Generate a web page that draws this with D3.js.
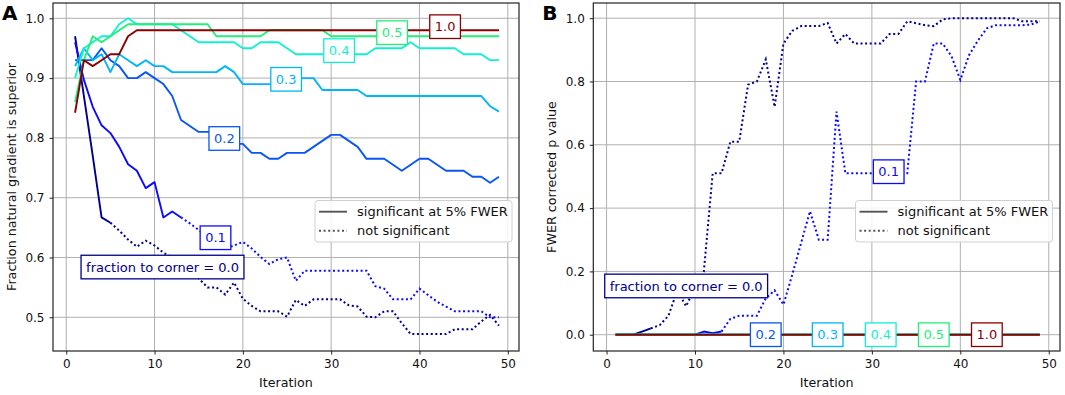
<!DOCTYPE html>
<html>
<head>
<meta charset="utf-8">
<script src="https://cdn.jsdelivr.net/npm/d3@7"></script>
<style>
  body { margin: 0; background: #fff; }
  text { font-family: "DejaVu Sans", sans-serif; }
</style>
</head>
<body>
<div id="chart"></div>
<script>
// iterations 1..49
const iterations = [1,2,3,4,5,6,7,8,9,10,11,12,13,14,15,16,17,18,19,20,21,22,23,24,25,
  26,27,28,29,30,31,32,33,34,35,36,37,38,39,40,41,42,43,44,45,46,47,48,49];

const fractions = ["0.0", "0.1", "0.2", "0.3", "0.4", "0.5", "1.0"];
const colors = ["#00008b", "#0a0aff", "#0a55f5", "#00b6f8", "#12f0d2", "#20f07a", "#8b0000"];
// last iteration that is significant at 5% FWER (solid line up to here)
const solidUntil = [5, 13, 49, 49, 49, 49, 49];

// panel A: fraction natural gradient is superior
const superior00 = [0.97,0.87,0.77,0.667,0.658,0.645,0.63,0.618,0.628,0.62,0.608,0.60,0.59,0.578,0.565,
  0.55,0.55,0.538,0.558,0.531,0.519,0.51,0.51,0.51,0.501,0.529,0.519,0.53,0.53,0.53,0.53,0.52,0.518,
  0.501,0.50,0.51,0.51,0.49,0.472,0.472,0.472,0.472,0.472,0.48,0.48,0.48,0.493,0.504,0.486];
const superior01 = [0.96,0.897,0.852,0.821,0.808,0.785,0.756,0.745,0.716,0.726,0.667,0.677,0.667,0.657,
  0.646,0.635,0.625,0.615,0.62,0.626,0.615,0.601,0.589,0.597,0.60,0.561,0.578,0.578,0.578,0.578,0.578,
  0.578,0.578,0.578,0.552,0.548,0.53,0.53,0.53,0.548,0.537,0.526,0.518,0.51,0.51,0.51,0.51,0.50,0.50];
const superior02 = [0.93,0.93,0.93,0.95,0.93,0.92,0.90,0.90,0.91,0.90,0.89,0.87,0.83,0.82,0.81,0.81,
  0.81,0.80,0.79,0.79,0.775,0.775,0.765,0.765,0.775,0.775,0.775,0.785,0.795,0.805,0.805,0.795,0.785,
  0.765,0.765,0.765,0.755,0.745,0.755,0.765,0.765,0.755,0.745,0.745,0.745,0.735,0.735,0.725,0.735];
const superior03 = [0.92,0.95,0.93,0.94,0.91,0.94,0.93,0.92,0.93,0.92,0.92,0.91,0.91,0.91,0.91,0.91,
  0.91,0.92,0.91,0.89,0.89,0.89,0.89,0.89,0.90,0.90,0.90,0.90,0.88,0.88,0.88,0.88,0.88,0.87,0.87,0.87,
  0.87,0.87,0.87,0.87,0.87,0.87,0.87,0.87,0.87,0.87,0.87,0.853,0.844];
const superior04 = [0.90,0.95,0.96,0.97,0.97,0.99,1.0,0.99,0.99,0.99,0.99,0.99,0.98,0.97,0.96,0.96,
  0.96,0.96,0.96,0.95,0.95,0.96,0.96,0.96,0.95,0.94,0.94,0.94,0.94,0.94,0.94,0.94,0.94,0.94,0.95,0.95,
  0.95,0.95,0.96,0.95,0.95,0.95,0.95,0.95,0.94,0.94,0.94,0.93,0.93];
const superior05 = [0.86,0.93,0.97,0.96,0.97,0.98,0.99,0.99,0.99,0.99,0.99,0.99,0.99,0.99,0.99,0.99,
  0.97,0.97,0.97,0.97,0.97,0.97,0.98,0.98,0.98,0.98,0.98,0.98,0.98,0.97,0.97,0.97,0.97,0.97,0.97,0.97,
  0.97,0.97,0.97,0.97,0.97,0.97,0.97,0.97,0.97,0.97,0.97,0.97,0.97];
const superior10 = [0.842,0.93,0.92,0.93,0.94,0.94,0.97,0.98,0.98,0.98,0.98,0.98,0.98,0.98,0.98,0.98,
  0.98,0.98,0.98,0.98,0.98,0.98,0.98,0.98,0.98,0.98,0.98,0.98,0.98,0.98,0.98,0.98,0.98,0.98,0.98,0.98,
  0.98,0.98,0.98,0.98,0.98,0.98,0.98,0.98,0.98,0.98,0.98,0.98,0.98];

// panel B: FWER corrected p value
const pval00 = [0,0,0,0.01,0.02,0.03,0.06,0.14,0.09,0.15,0.2,0.51,0.51,0.61,0.61,0.79,0.80,0.87,0.72,
  0.92,0.96,0.975,0.975,0.975,0.985,0.92,0.95,0.92,0.92,0.92,0.92,0.95,0.95,0.99,0.984,0.978,0.975,
  0.996,1.0,1.0,1.0,1.0,1.0,1.0,1.0,1.0,0.99,0.99,0.99];
const pval01 = [0,0,0,0,0,0,0,0,0,0,0.01,0.005,0.01,0.05,0.06,0.06,0.06,0.115,0.14,0.095,0.19,0.29,
  0.39,0.30,0.30,0.705,0.51,0.51,0.51,0.51,0.51,0.51,0.51,0.51,0.80,0.80,0.92,0.92,0.88,0.805,0.884,
  0.93,0.968,0.978,0.978,0.978,0.978,0.98,0.99];
const pvalZero = [0,0,0,0,0,0,0,0,0,0,0,0,0,0,0,0,0,0,0,0,0,0,0,0,0,0,0,0,0,0,0,0,0,0,0,0,0,0,0,0,
  0,0,0,0,0,0,0,0,0];
const pval02 = pvalZero, pval03 = pvalZero, pval04 = pvalZero, pval05 = pvalZero, pval10 = pvalZero;

// label anchors (iteration, value) for the text boxes
const labelIterA = [10.9, 16.9, 17.9, 24.9, 30.9, 36.9, 42.9];
const labelValA = [0.584, 0.633, 0.799, 0.898, 0.946, 0.976, 0.986];
const labelIterB = [9.0, 31.9, 18.0, 25.0, 31.0, 37.0, 43.0];
const labelValB = [0.154, 0.515, 0.0, 0.0, 0.0, 0.0, 0.0];

const yTicksA = [0.5, 0.6, 0.7, 0.8, 0.9, 1.0];
const yTicksB = [0.0, 0.2, 0.4, 0.6, 0.8, 1.0];
const xTicks = [0, 10, 20, 30, 40, 50];

const W = 1065, H = 395;
const svg = d3.select("#chart").append("svg").attr("width", W).attr("height", H);

function panel(opts) {
  const { left, right, top, bottom, yDomain, yTicks, series, ylabel, letter,
          labelIter, labelVal, legendX } = opts;
  const g = svg.append("g");
  const x = d3.scaleLinear().domain([-1.5, 51.27]).range([left, right]);
  const y = d3.scaleLinear().domain(yDomain).range([bottom, top]);

  // grid
  g.append("g").selectAll("line").data(xTicks).join("line")
    .attr("x1", d => x(d)).attr("x2", d => x(d)).attr("y1", top).attr("y2", bottom)
    .attr("stroke", "#b0b0b0").attr("stroke-width", 1);
  g.append("g").selectAll("line").data(yTicks).join("line")
    .attr("y1", d => y(d)).attr("y2", d => y(d)).attr("x1", left).attr("x2", right)
    .attr("stroke", "#b0b0b0").attr("stroke-width", 1);

  // axes
  const xAxis = g.append("g").attr("transform", `translate(0,${bottom})`)
    .call(d3.axisBottom(x).tickValues(xTicks).tickFormat(d3.format("d")).tickSize(3.5).tickPadding(5));
  const yAxis = g.append("g").attr("transform", `translate(${left},0)`)
    .call(d3.axisLeft(y).tickValues(yTicks).tickFormat(d3.format(".1f")).tickSize(3.5).tickPadding(5));
  [xAxis, yAxis].forEach(a => {
    a.select(".domain").remove();
    a.selectAll("text").attr("font-size", 12).attr("fill", "#111")
      .style("font-family", "DejaVu Sans, sans-serif");
    a.selectAll("line").attr("stroke", "#222");
  });

  const clipId = "clip" + letter;
  svg.append("clipPath").attr("id", clipId).append("rect")
    .attr("x", left).attr("y", top).attr("width", right - left).attr("height", bottom - top);

  // series lines: solid while significant, dotted afterwards
  const line = d3.line().x(d => x(d[0])).y(d => y(d[1]));
  const lines = g.append("g").attr("clip-path", `url(#${clipId})`);
  series.forEach((vals, k) => {
    const pts = iterations.map((it, i) => [it, vals[i]]);
    const cut = solidUntil[k];
    const solid = pts.filter(p => p[0] <= cut);
    const dotted = pts.filter(p => p[0] >= cut);
    if (solid.length > 1) lines.append("path").attr("d", line(solid))
      .attr("fill", "none").attr("stroke", colors[k]).attr("stroke-width", 1.9)
      .attr("stroke-linejoin", "round");
    if (dotted.length > 1) lines.append("path").attr("d", line(dotted))
      .attr("fill", "none").attr("stroke", colors[k]).attr("stroke-width", 2)
      .attr("stroke-dasharray", "2,2.6");
  });

  // spines
  g.append("rect").attr("x", left).attr("y", top).attr("width", right - left)
    .attr("height", bottom - top).attr("fill", "none").attr("stroke", "#222").attr("stroke-width", 1.2);

  // labels on the lines
  fractions.forEach((f, k) => {
    const txt = k === 0 ? "fraction to corner = " + f : f;
    const lg = g.append("g").attr("transform", `translate(${x(labelIter[k])},${y(labelVal[k])})`);
    const t = lg.append("text").attr("text-anchor", "middle").attr("dy", "0.36em")
      .attr("font-size", 13).attr("fill", colors[k]).text(txt);
    const bb = t.node().getBBox();
    lg.insert("rect", "text").attr("x", bb.x - 5).attr("y", -11.8).attr("width", bb.width + 10)
      .attr("height", 23.6).attr("fill", "#fff").attr("stroke", colors[k]).attr("stroke-width", 1.3);
  });

  // legend
  const lgd = g.append("g").attr("transform", `translate(${legendX},200.5)`);
  lgd.append("rect").attr("width", 197).attr("height", 41.5).attr("rx", 3)
    .attr("fill", "#fff").attr("fill-opacity", 0.85).attr("stroke", "#d0d0d0");
  lgd.append("line").attr("x1", 4).attr("x2", 32).attr("y1", 11.2).attr("y2", 11.2)
    .attr("stroke", "#555").attr("stroke-width", 1.9);
  lgd.append("line").attr("x1", 4).attr("x2", 32).attr("y1", 30.2).attr("y2", 30.2)
    .attr("stroke", "#555").attr("stroke-width", 2).attr("stroke-dasharray", "2,2.6");
  lgd.append("text").attr("x", 42).attr("y", 15.8).attr("font-size", 13).attr("fill", "#111")
    .text("significant at 5% FWER");
  lgd.append("text").attr("x", 42).attr("y", 34.8).attr("font-size", 13).attr("fill", "#111")
    .text("not significant");

  // axis titles
  g.append("text").attr("x", (left + right) / 2).attr("y", 387).attr("text-anchor", "middle")
    .attr("font-size", 12.7).attr("fill", "#111").text("Iteration");
  g.append("text").attr("transform", `translate(${left - 37},${(top + bottom) / 2}) rotate(-90)`)
    .attr("text-anchor", "middle").attr("font-size", 12.7).attr("fill", "#111").text(ylabel);

  // panel letter
  g.append("text").attr("x", left - 51).attr("y", 19.5).attr("font-size", 20)
    .attr("font-weight", "bold").attr("fill", "#000").text(letter);
}

panel({
  left: 53, right: 519, top: 3, bottom: 351,
  yDomain: [0.4436, 1.0256], yTicks: yTicksA,
  series: [superior00, superior01, superior02, superior03, superior04, superior05, superior10],
  ylabel: "Fraction natural gradient is superior", letter: "A",
  labelIter: labelIterA, labelVal: labelValA, legendX: 315
});
panel({
  left: 593.3, right: 1060, top: 3, bottom: 351,
  yDomain: [-0.0515, 1.048], yTicks: yTicksB,
  series: [pval00, pval01, pval02, pval03, pval04, pval05, pval10],
  ylabel: "FWER corrected p value", letter: "B",
  labelIter: labelIterB, labelVal: labelValB, legendX: 855.5
});
</script>
</body>
</html>
